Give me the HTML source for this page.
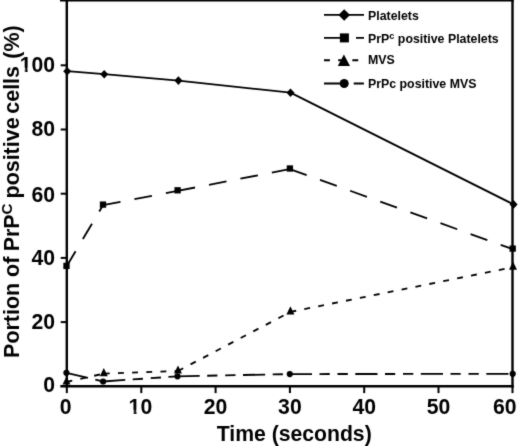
<!DOCTYPE html>
<html><head><meta charset="utf-8"><title>Chart</title>
<style>html,body{margin:0;padding:0;background:#fff;width:520px;height:446px;overflow:hidden}</style></head>
<body>
<svg width="520" height="446" viewBox="0 0 520 446" style="position:absolute;left:0;top:0">
<defs><filter id="soft" x="0" y="0" width="520" height="446" filterUnits="userSpaceOnUse"><feConvolveMatrix order="3" kernelMatrix="0.02 0.08 0.02 0.08 0.6 0.08 0.02 0.08 0.02" divisor="1" edgeMode="duplicate" preserveAlpha="false"/></filter></defs>
<rect width="520" height="446" fill="#fff"/>
<g filter="url(#soft)">
<g stroke="#000" stroke-width="2.6" fill="none" stroke-linecap="butt">
<line x1="66.8" y1="0" x2="66.8" y2="387.6" stroke-width="2.4"/>
<line x1="512.5" y1="0" x2="512.5" y2="387.6" stroke-width="2.4"/>
<line x1="60" y1="0.3" x2="513.8" y2="0.3"/>
<line x1="60.3" y1="386.3" x2="513.8" y2="386.3"/>
</g>
<g stroke="#000" stroke-width="2" fill="none">
<line x1="60.7" y1="322.10" x2="66.8" y2="322.10"/>
<line x1="60.7" y1="257.90" x2="66.8" y2="257.90"/>
<line x1="60.7" y1="193.70" x2="66.8" y2="193.70"/>
<line x1="60.7" y1="129.50" x2="66.8" y2="129.50"/>
<line x1="60.7" y1="65.30" x2="66.8" y2="65.30"/>
<line x1="66.80" y1="386.3" x2="66.80" y2="393.1"/>
<line x1="141.30" y1="386.3" x2="141.30" y2="393.1"/>
<line x1="215.60" y1="386.3" x2="215.60" y2="393.1"/>
<line x1="289.90" y1="386.3" x2="289.90" y2="393.1"/>
<line x1="364.20" y1="386.3" x2="364.20" y2="393.1"/>
<line x1="438.50" y1="386.3" x2="438.50" y2="393.1"/>
<line x1="512.50" y1="386.3" x2="512.50" y2="393.1"/>
</g>
<g stroke="#000" stroke-width="1.85" fill="none" stroke-linecap="butt">
<line x1="67.20" y1="71.20" x2="104.20" y2="74.20"/>
<line x1="104.20" y1="74.20" x2="178.40" y2="80.60"/>
<line x1="178.40" y1="80.60" x2="290.50" y2="92.70"/>
<line x1="290.50" y1="92.70" x2="513.60" y2="204.40"/>
<line x1="66.50" y1="266.50" x2="103.00" y2="205.20" stroke-dasharray="17.8 14.2"/>
<line x1="103.00" y1="205.20" x2="177.60" y2="190.90" stroke-dasharray="17.8 14.2"/>
<line x1="177.60" y1="190.90" x2="289.90" y2="169.10" stroke-dasharray="17.8 14.2"/>
<line x1="289.90" y1="169.10" x2="512.70" y2="249.20" stroke-dasharray="17.8 14.2"/>
<line x1="66.50" y1="382.00" x2="103.80" y2="373.60" stroke-dasharray="5.9 8.27"/>
<line x1="103.80" y1="373.60" x2="178.00" y2="371.00" stroke-dasharray="5.9 8.27"/>
<line x1="178.00" y1="371.00" x2="290.40" y2="311.90" stroke-dasharray="5.9 8.27"/>
<line x1="290.40" y1="311.90" x2="513.00" y2="267.20" stroke-dasharray="5.9 8.27"/>
<line x1="66.40" y1="372.80" x2="103.10" y2="381.50" stroke-dasharray="22.2 7.5 10.2 7.8 10.3 7.5"/>
<line x1="103.10" y1="381.50" x2="177.50" y2="376.30" stroke-dasharray="22.2 7.5 10.2 7.8 10.3 7.5"/>
<line x1="177.50" y1="376.30" x2="289.80" y2="374.10" stroke-dasharray="22.2 7.5 10.2 7.8 10.3 7.5"/>
<line x1="289.80" y1="374.10" x2="512.70" y2="373.80" stroke-dasharray="22.2 7.5 10.2 7.8 10.3 7.5"/>
</g>
<g fill="#000">
<polygon points="63.20,71.20 67.20,66.90 71.20,71.20 67.20,75.50"/>
<polygon points="100.20,74.20 104.20,69.90 108.20,74.20 104.20,78.50"/>
<polygon points="174.40,80.60 178.40,76.30 182.40,80.60 178.40,84.90"/>
<polygon points="286.50,92.70 290.50,88.40 294.50,92.70 290.50,97.00"/>
<polygon points="509.60,204.40 513.60,200.10 517.60,204.40 513.60,208.70"/>
<rect x="63.35" y="262.75" width="6.30" height="6.30"/>
<rect x="99.85" y="201.45" width="6.30" height="6.30"/>
<rect x="174.45" y="187.15" width="6.30" height="6.30"/>
<rect x="286.75" y="165.35" width="6.30" height="6.30"/>
<rect x="509.55" y="245.45" width="6.30" height="6.30"/>
<polygon points="62.50,384.60 66.50,376.40 70.50,384.60"/>
<polygon points="99.80,376.20 103.80,368.00 107.80,376.20"/>
<polygon points="174.00,373.60 178.00,365.40 182.00,373.60"/>
<polygon points="286.40,314.50 290.40,306.30 294.40,314.50"/>
<polygon points="509.00,269.80 513.00,261.60 517.00,269.80"/>
<circle cx="66.40" cy="372.80" r="3.1"/>
<circle cx="103.10" cy="381.50" r="3.1"/>
<circle cx="177.50" cy="376.30" r="3.1"/>
<circle cx="289.80" cy="374.10" r="3.1"/>
<circle cx="512.70" cy="373.80" r="3.1"/>
</g>
<g stroke="#000" stroke-width="1.85" fill="none">
<line x1="324" y1="14.9" x2="364" y2="14.9"/>
<line x1="324" y1="37.8" x2="364" y2="37.8" stroke-dasharray="17.8 14.2"/>
<line x1="324" y1="60.2" x2="364" y2="60.2" stroke-dasharray="5.9 8.27"/>
<line x1="324" y1="83.5" x2="364" y2="83.5" stroke-dasharray="22.2 7.5 10.2 7.8 10.3 7.5"/>
</g><g fill="#000">
<polygon points="338.40,14.95 344.20,9.15 350.00,14.95 344.20,20.75"/>
<rect x="339.90" y="33.40" width="9.00" height="9.00"/>
<polygon points="337.80,66.10 343.90,54.60 350.00,66.10"/>
<circle cx="344.20" cy="83.50" r="4.5"/>
</g>
<g font-family="Liberation Sans, Arial, Helvetica, sans-serif" font-weight="bold" fill="#000" font-size="21.2" text-anchor="end">
<text x="55.15" y="392.30">0</text>
<text x="55.15" y="329.15">20</text>
<text x="55.15" y="264.80">40</text>
<text x="55.15" y="201.80">60</text>
<text x="55.15" y="136.00">80</text>
<text x="55.15" y="71.70">100</text>
</g>
<g font-family="Liberation Sans, Arial, Helvetica, sans-serif" font-weight="bold" fill="#000" font-size="21.2" text-anchor="middle">
<text x="65.70" y="413.7">0</text>
<text x="140.40" y="413.7">10</text>
<text x="215.60" y="413.7">20</text>
<text x="289.90" y="413.7">30</text>
<text x="364.20" y="413.7">40</text>
<text x="438.50" y="413.7">50</text>
<text x="504.80" y="413.7">60</text>
</g>
<g fill="#fff"><rect x="19.65" y="68.2" width="5.1" height="4"/><rect x="27.7" y="68.2" width="4" height="4"/><rect x="128.5" y="410.4" width="5.1" height="4"/><rect x="136.55" y="410.4" width="4" height="4"/></g>
<text font-family="Liberation Sans, Arial, Helvetica, sans-serif" font-weight="bold" fill="#000" font-size="21.2" x="216.7" y="440.6">Time (seconds)</text>
<text font-family="Liberation Sans, Arial, Helvetica, sans-serif" font-weight="bold" fill="#000" font-size="21.45" transform="translate(18.8,357.9) rotate(-90)">Portion of <tspan dx="-0.6">PrP</tspan><tspan font-size="15.2" dy="-6.7">C</tspan><tspan dy="6.7" dx="-1"> positive </tspan><tspan dx="-2.2">cells</tspan><tspan dx="1.4"> (%)</tspan></text>
<g font-family="Liberation Sans, Arial, Helvetica, sans-serif" font-weight="bold" fill="#000" font-size="12.35">
<text x="368.0" y="19.5">Platelets</text>
<text x="368.0" y="42.8">PrP<tspan font-size="9.2" dy="-3.8">c</tspan><tspan dy="3.8"> positive Platelets</tspan></text>
<text x="368.0" y="64.2">MVS</text>
<text x="368.0" y="87.6">PrPc positive MVS</text>
</g>
</g>
</svg>
</body></html>
